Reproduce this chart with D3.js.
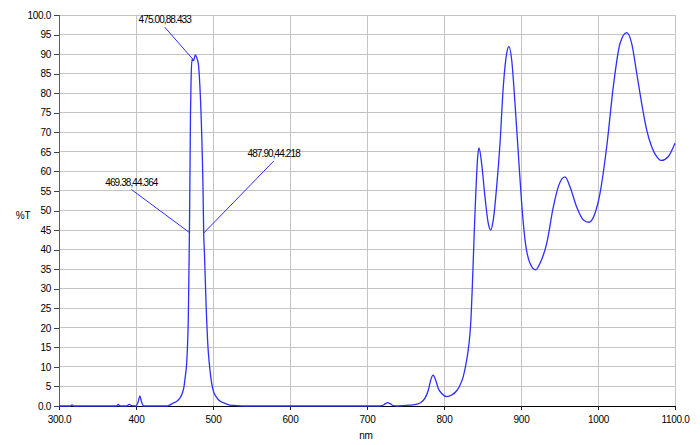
<!DOCTYPE html>
<html>
<head>
<meta charset="utf-8">
<script src="https://cdn.jsdelivr.net/npm/d3@7"></script>
<style>
  html, body { margin: 0; padding: 0; background: #fff; }
  svg text { font-family: "Liberation Sans", Arial, sans-serif; fill: #000; }
</style>
</head>
<body>
<svg id="chart" width="700" height="445"></svg>
<script>
// ---- data ----
const wavelength = [
  300, 315, 317, 319, 360, 375, 377, 379, 388, 391, 394, 400, 403, 405, 407, 410,
  440, 444, 448, 453, 457, 460, 462.3, 464, 465.8, 467, 467.9, 468.6, 469.38, 470.2, 470.8, 471.5,
  472.7, 474, 475, 477, 479, 481, 483, 485.3, 487, 487.9, 488.7, 489.6, 491, 491.8, 493.5, 495.2,
  498.3, 501, 504, 508, 513.4, 518, 522, 530, 540,
  715, 720, 724, 727, 730, 734, 740, 755, 765, 770, 775.3, 779.7, 782.7, 785.7, 789.2, 792.6,
  797, 803.5, 810, 816.5, 820, 825, 829.5, 832.5, 834.7, 837.1, 839.4, 841.1, 843.8, 845.5,
  848.9, 853.2, 857.5, 860.6, 864, 868.4, 872.7, 877, 881.4, 884.4, 887.9, 892.2, 896.5,
  900.9, 905.2, 911.7, 919.1, 924.7, 933.4, 942, 948.5, 957.1, 963.6, 972.3, 981, 988.3,
  996.1, 1002.6, 1011.3, 1019.9, 1028.6, 1037.3, 1043.8, 1050.3, 1056.7, 1063.2, 1069.7,
  1076.2, 1082.7, 1091.3, 1100
];
const transmittance = [
  0, 0, 0.3, 0, 0, 0, 0.4, 0, 0, 0.4, 0.1, 0, 1.2, 2.6, 1.2, 0,
  0, 0.3, 0.7, 1.2, 2.0, 3.2, 4.9, 7.5, 10.9, 16, 22, 32, 44.364, 62, 75, 83,
  88.7, 88.3, 88.433, 89.8, 89.0, 87.5, 81.7, 69.8, 56, 44.218, 40, 34.8, 26, 22, 15, 10.9,
  5.8, 3.5, 2.4, 1.4, 0.85, 0.5, 0.25, 0.1, 0,
  0, 0.1, 0.6, 0.85, 0.6, 0.1, 0, 0.2, 0.5, 0.9, 2.0, 4.1, 6.6, 7.9, 6.6, 4.5,
  3.2, 2.4, 2.8, 3.9, 5, 7.5, 11.8, 16, 21.1, 32.2, 45, 53.5, 63.8, 66.0,
  62.0, 53.5, 46.7, 45.0, 47.6, 56.1, 67, 81.7, 90.2, 91.9, 88.5, 77.4, 64.6,
  51.8, 42.5, 36.5, 34.8, 36.5, 41.6, 50.9, 56.1, 58.6, 56.1, 50.9, 47.6, 47.0,
  49.3, 54.4, 66.3, 81.7, 92.7, 95.5, 92.7, 85.1, 77.4, 70.6, 66.3,
  63.8, 62.8, 63.8, 67.2
];
const xTicks = [300, 400, 500, 600, 700, 800, 900, 1000, 1100];
const xTickLabels = ["300.0", "400", "500", "600", "700", "800", "900", "1000", "1100.0"];
const yTicks = d3.range(0, 101, 5);
const yTickLabels = yTicks.map(v => v === 0 ? "0.0" : v === 100 ? "100.0" : String(v));
const annWavelength = [475.00, 469.38, 487.90];
const annValue = [88.433, 44.364, 44.218];
const annText = ["475.00,88.433", "469.38,44.364", "487.90,44.218"];
const annDx = [-29, -58, 70];
const annDy = [-33, -43, -72];
const xTitle = "nm";
const yTitle = "%T";

// ---- chart ----
const svg = d3.select("#chart");
const mLeft = 59, mRight = 675, mTop = 15, mBottom = 406;
const x = d3.scaleLinear().domain([300, 1100]).range([mLeft, mRight]);
const y = d3.scaleLinear().domain([0, 100]).range([mBottom, mTop]);

// grid
const grid = svg.append("g").attr("shape-rendering", "crispEdges");
grid.selectAll("line.h").data(yTicks.filter(v => v > 0)).enter().append("line")
  .attr("x1", mLeft).attr("x2", mRight)
  .attr("y1", d => y(d)).attr("y2", d => y(d))
  .attr("stroke", "#c4c4c4").attr("stroke-width", 1);
grid.selectAll("line.v").data(xTicks.filter(v => v > 300)).enter().append("line")
  .attr("y1", mTop).attr("y2", mBottom)
  .attr("x1", d => x(d)).attr("x2", d => x(d))
  .attr("stroke", "#c4c4c4").attr("stroke-width", 1);

// y axis
const yAxis = d3.axisLeft(y).tickValues(yTicks).tickSize(5).tickPadding(3)
  .tickFormat((d, i) => yTickLabels[i]);
const gy = svg.append("g").attr("transform", `translate(${mLeft},0)`).call(yAxis);
gy.select(".domain").attr("stroke", "#606060").attr("shape-rendering", "crispEdges");
gy.selectAll(".tick line").attr("stroke", "#404040").attr("shape-rendering", "crispEdges");
gy.selectAll("text").attr("font-size", 10).attr("letter-spacing", "-0.3px")
  .attr("font-family", "Liberation Sans, Arial, sans-serif").attr("fill", "#000");

// x axis
const xAxis = d3.axisBottom(x).tickValues(xTicks).tickSize(4).tickPadding(6)
  .tickFormat((d, i) => xTickLabels[i]);
const gx = svg.append("g").attr("transform", `translate(0,${mBottom})`).call(xAxis);
gx.select(".domain").attr("stroke", "#000").attr("stroke-width", 1.2).attr("shape-rendering", "crispEdges");
gx.selectAll(".tick line").attr("stroke", "#202020").attr("shape-rendering", "crispEdges");
gx.selectAll("text").attr("font-size", 10).attr("letter-spacing", "-0.3px")
  .attr("font-family", "Liberation Sans, Arial, sans-serif").attr("fill", "#000");

// titles
svg.append("text").attr("x", (mLeft + mRight) / 2 - 1).attr("y", 439)
  .attr("text-anchor", "middle").attr("font-size", 10).attr("letter-spacing", "-0.3px").text(xTitle);
svg.append("text").attr("x", 23).attr("y", 219)
  .attr("text-anchor", "middle").attr("font-size", 10).attr("letter-spacing", "-0.3px").text(yTitle);

// spectrum
const pts = wavelength.map((w, i) => [w, transmittance[i]]);
const line = d3.line().x(d => x(d[0])).y(d => y(d[1])).curve(d3.curveMonotoneX);
svg.append("path").datum(pts).attr("d", line)
  .attr("fill", "none").attr("stroke", "#2e2eff").attr("stroke-width", 1.3);

// annotations
const ann = svg.append("g");
annWavelength.forEach((w, i) => {
  const px = x(w), py = y(annValue[i]);
  const lx = px + annDx[i], ly = py + annDy[i];
  ann.append("line").attr("x1", lx).attr("y1", ly).attr("x2", px).attr("y2", py)
    .attr("stroke", "#2e2eff").attr("stroke-width", 1);
  ann.append("text").attr("x", lx).attr("y", ly - 4)
    .attr("text-anchor", "middle").attr("font-size", 10).attr("letter-spacing", "-0.9px")
    .text(annText[i]);
});
</script>
</body>
</html>
